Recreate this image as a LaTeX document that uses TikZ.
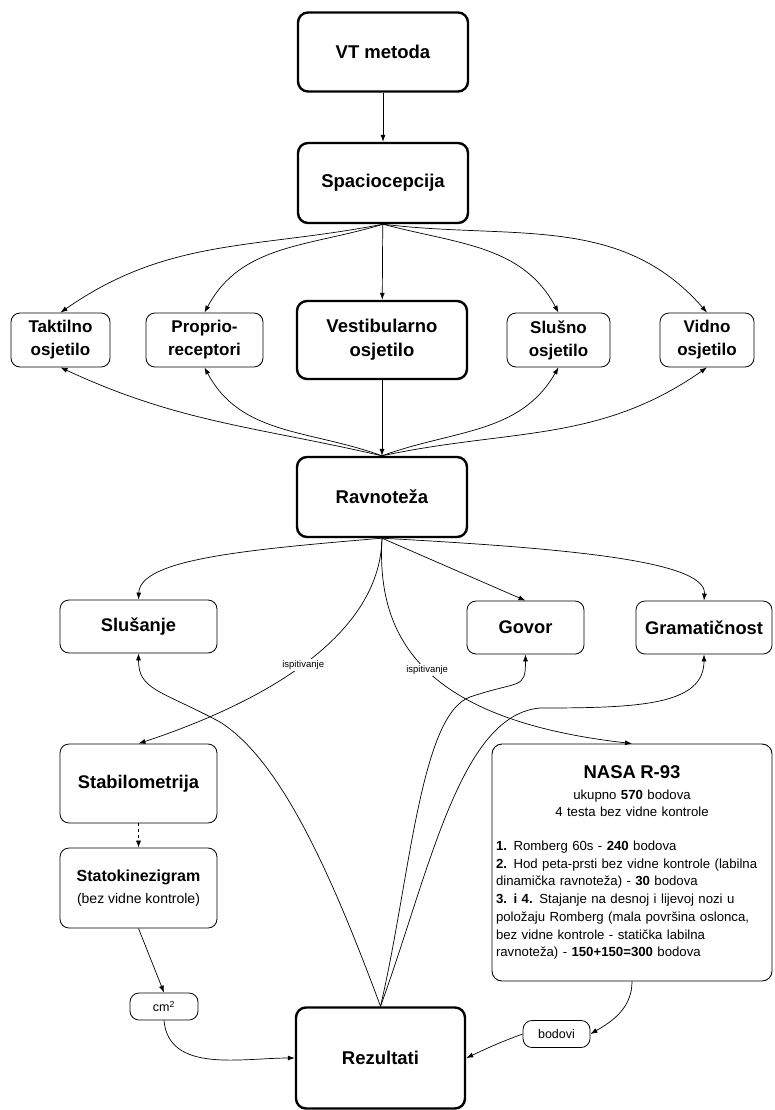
\documentclass[tikz,border=0pt]{standalone}
\usepackage{fontspec}
\setmainfont{Liberation Sans}
\usepackage{tikz}
\usetikzlibrary{shapes,arrows,arrows.meta,positioning}

\begin{document}
\begin{tikzpicture}[x=1pt,y=1pt,
    >={Latex[length=7pt,width=5pt]},
    link/.style={->,line width=0.7pt},
    mainbox/.style={draw,line width=2.4pt,rounded corners=10pt,minimum width=170pt,minimum height=79pt,align=center,font=\bfseries\fontsize{18.5}{24}\selectfont},
    subbox/.style={draw,line width=0.8pt,rounded corners=9pt,minimum height=54pt,align=center,font=\bfseries\fontsize{17}{23}\selectfont},
    unitbox/.style={draw,line width=0.8pt,rounded corners=9pt,minimum height=27pt,font=\fontsize{12.5}{15}\selectfont},
    testlabel/.style={fill=white,inner sep=1.5pt,font=\fontsize{9.5}{11}\selectfont}]
    \useasboundingbox (0,0) rectangle (775,-1110);

    % Draw main chain
    \node[mainbox] (vt) at (383,-52) {VT metoda};
    \node[mainbox,minimum height=80pt] (spacio) at (383,-183) {Spaciocepcija};

    % Draw senses
    \node[subbox,minimum width=99pt] (takt) at (60.5,-340) {Taktilno\\osjetilo};
    \node[subbox,minimum width=117pt] (proprio) at (204.5,-340) {Proprio-\\receptori};
    \node[mainbox,minimum height=78pt] (vest) at (382,-340) {Vestibularno\\osjetilo};
    \node[subbox,minimum width=103pt] (slusno) at (558.5,-340) {Slušno\\osjetilo};
    \node[subbox,minimum width=94pt] (vidno) at (707,-340) {Vidno\\osjetilo};

    \node[mainbox,minimum height=80pt] (ravn) at (382,-497) {Ravnoteža};

    % Draw second row
    \node[subbox,minimum width=157pt,minimum height=53pt,font=\bfseries\fontsize{18.3}{22}\selectfont] (slusanje) at (138.5,-626.5) {Slušanje};
    \node[subbox,minimum width=117pt,minimum height=53pt,font=\bfseries\fontsize{18.3}{22}\selectfont] (govor) at (525.5,-627.5) {Govor};
    \node[subbox,minimum width=136pt,minimum height=53pt,font=\bfseries\fontsize{18.3}{22}\selectfont] (gram) at (704,-627.5) {Gramatičnost};

    % Draw tests
    \node[subbox,minimum width=157pt,minimum height=79pt,font=\bfseries\fontsize{18.3}{22}\selectfont] (stabilo) at (138.5,-783.5) {Stabilometrija};
    \node[subbox,minimum width=157pt,minimum height=80pt,font=\bfseries\fontsize{16}{22}\selectfont] (stato) at (138.5,-888) {Statokinezigram\\{\mdseries\fontsize{14}{22}\selectfont (bez vidne kontrole)}};
    \node[draw,line width=0.9pt,rounded corners=10pt,minimum width=280pt,minimum height=237pt,
        text width=272pt,inner xsep=4pt,align=left,font=\fontsize{13.2}{17.7}\selectfont] (nasa) at (632,-862.5) {%
        {\centering{\fontsize{18.5}{21}\selectfont\bfseries NASA R-93\par}
        \vspace{3pt}
        ukupno \textbf{570} bodova\par
        4 testa bez vidne kontrole\par}
        \vspace{16pt}
        \textbf{1.} Romberg 60s - \textbf{240} bodova\\
        \textbf{2.} Hod peta-prsti bez vidne kontrole (labilna\\
        dinamička ravnoteža) - \textbf{30} bodova\\
        \textbf{3. i 4.} Stajanje na desnoj i lijevoj nozi u\\
        položaju Romberg (mala površina oslonca,\\
        bez vidne kontrole - statička labilna\\
        ravnoteža) - \textbf{150+150=300} bodova};

    % Draw results
    \node[unitbox,minimum width=68pt] (cm2) at (164,-1006.5) {cm\textsuperscript{2}};
    \node[mainbox,minimum width=169pt,minimum height=101pt] (rez) at (380.5,-1058) {Rezultati};
    \node[unitbox,minimum width=67pt] (bodovi) at (556.5,-1034) {bodovi};

    % Connectors from spaciocepcija
    \draw[link] (vt) -- (spacio);
    \draw[link] (spacio) -- (vest);
    \foreach \n/\o/\i in {takt/191/35,proprio/197/62,slusno/-15/118,vidno/-7/131}
        \draw[link] (spacio.south) to[out=\o,in=\i] (\n.north);

    % Connectors into senses from ravnoteza
    \draw[link] (vest) -- (ravn);
    \foreach \n/\o/\i in {takt/167/-25,proprio/160/-62,slusno/20/-120,vidno/12/-145}
        \draw[link] (ravn.north) to[out=\o,in=\i] (\n.south);

    % Connectors from ravnoteza
    \draw[link] (ravn.south) .. controls (240,-550) and (140,-560) .. (slusanje.north);
    \draw[link] (ravn.south) -- (govor.north);
    \draw[link] (ravn.south) .. controls (560,-548) and (707,-560) .. (gram.north);
    \draw[link] (ravn.south) .. controls (380,-640) and (255,-705) .. node[testlabel,pos=0.5] {ispitivanje} (stabilo.north);
    \draw[link] (ravn.south) .. controls (376,-640) and (425,-720) .. node[testlabel,pos=0.5] {ispitivanje} (nasa.north);

    % Connectors from rezultati
    \draw[link] (rez.north) .. controls (330,-870) and (280,-760) .. (220,-722)
        .. controls (160,-690) and (138.5,-690) .. (slusanje.south);
    \draw[link] (rez.north) .. controls (410,-880) and (420,-715) .. (470,-697)
        .. controls (520,-680) and (525.5,-690) .. (govor.south);
    \draw[link] (rez.north) .. controls (430,-870) and (460,-715) .. (540,-708)
        .. controls (640,-708) and (704,-705) .. (gram.south);

    % Connectors to rezultati
    \draw[link,dashed] (stabilo) -- (stato);
    \draw[link] (stato.south) -- (cm2.north);
    \draw[link] (cm2.south) to[out=-85,in=180] (rez.west);
    \draw[link] (nasa.south) to[out=-90,in=30] (bodovi.east);
    \draw[link] (bodovi.west) to[out=200,in=25] (rez.east);
\end{tikzpicture}
\end{document}
